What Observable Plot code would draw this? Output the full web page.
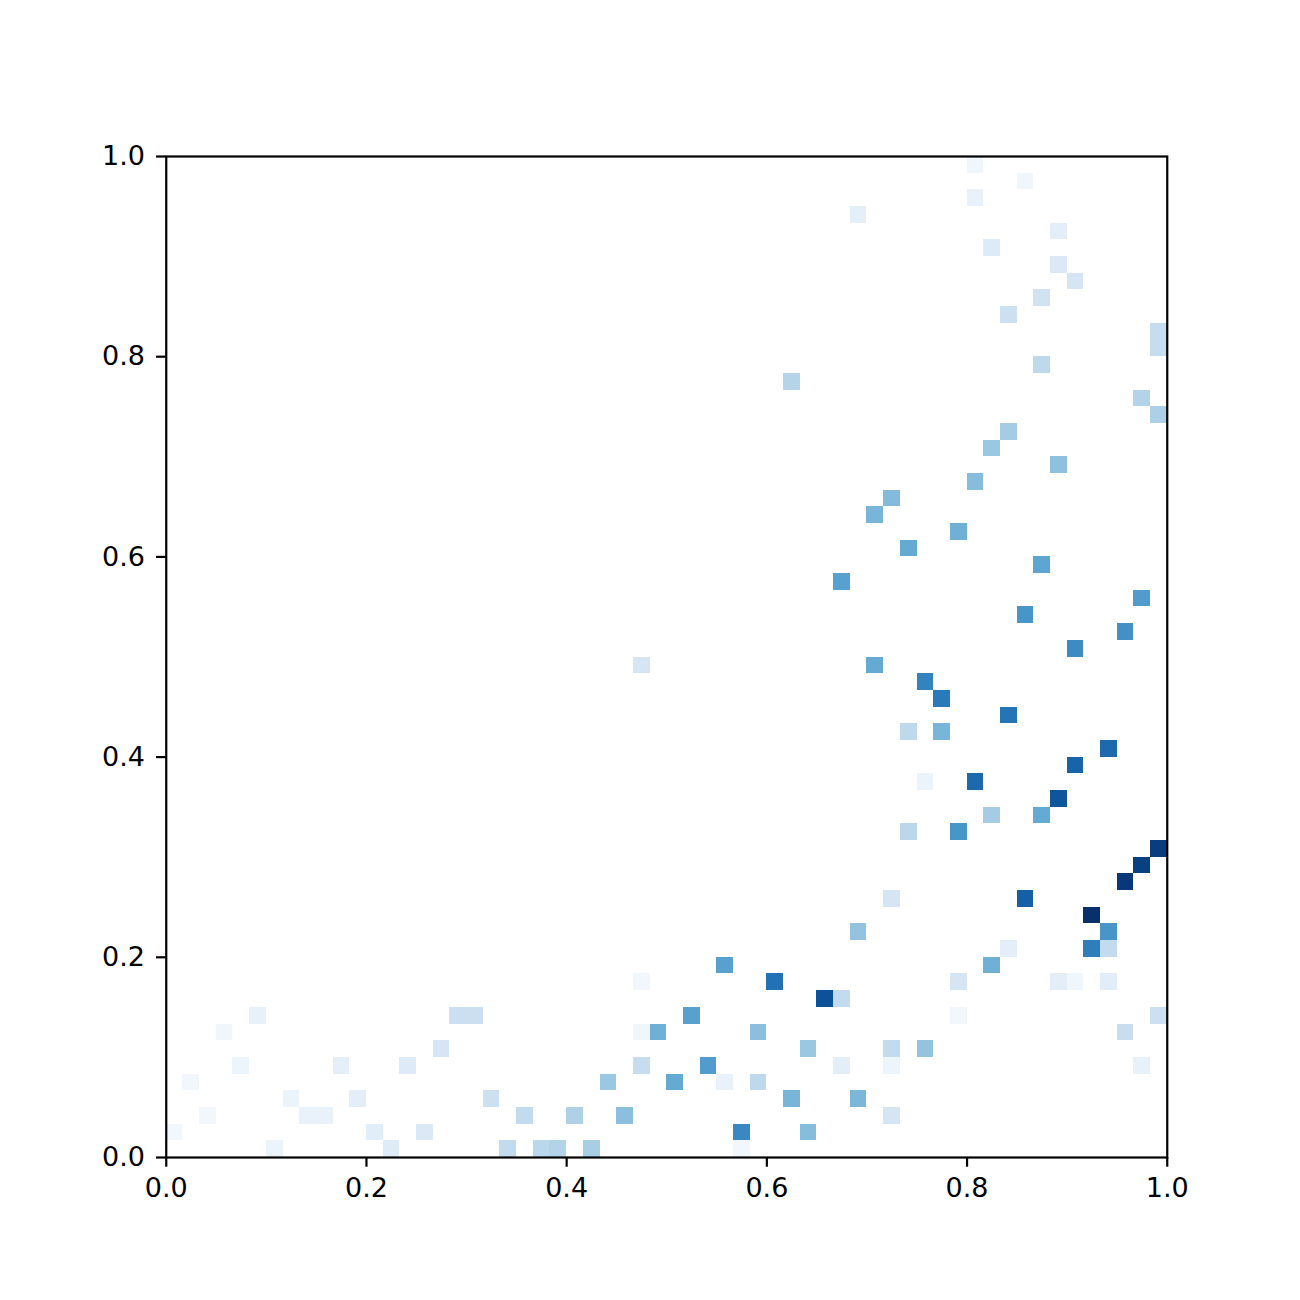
<!DOCTYPE html>
<html>
<head>
<meta charset="utf-8">
<script src="https://cdn.jsdelivr.net/npm/d3@7"></script>
<script src="https://cdn.jsdelivr.net/npm/@observablehq/plot@0.6"></script>
<style>
  html, body { margin: 0; padding: 0; background: #ffffff; }
  #chart { width: 1300px; height: 1300px; }
</style>
</head>
<body>
<div id="chart"></div>
<script>
// 2D histogram: 60 x 60 bins over [0,1] x [0,1]
const binCount = 60;
const tickValues = [0, 0.2, 0.4, 0.6, 0.8, 1.0];
const tickLabels = ["0.0", "0.2", "0.4", "0.6", "0.8", "1.0"];

// Non-empty cells: column index, row index (from bottom), bin weight (0..1)
const cellCol = [
  6, 13, 20, 22, 23, 25, 34,
  0, 12, 15, 34, 38,
  2, 8, 9, 21, 24, 27, 43,
  7, 11, 19, 37, 41,
  1, 26, 30, 33, 35,
  4, 10, 14, 28, 32, 40, 43, 58,
  16, 38, 43, 45,
  3, 28, 29, 35, 57,
  5, 17, 18, 31, 47, 59,
  39, 40,
  28, 36, 47, 53, 54, 56,
  33, 49,
  50, 55, 56,
  41, 56,
  55,
  43, 51,
  57,
  58,
  59,
  44, 47,
  49, 52,
  53,
  45, 48,
  54,
  56,
  44, 46,
  50,
  46,
  45,
  28, 42,
  54,
  57,
  51,
  58,
  40,
  52,
  44,
  47,
  42,
  43,
  48,
  53,
  49,
  50,
  59,
  58,
  37,
  52,
  59,
  59,
  50,
  52,
  54,
  53,
  49,
  53,
  41,
  48,
  51,
  48
];
const cellRow = [
  0, 0, 0, 0, 0, 0, 0,
  1, 1, 1, 1, 1,
  2, 2, 2, 2, 2, 2, 2,
  3, 3, 3, 3, 3,
  4, 4, 4, 4, 4,
  5, 5, 5, 5, 5, 5, 5, 5,
  6, 6, 6, 6,
  7, 7, 7, 7, 7,
  8, 8, 8, 8, 8, 8,
  9, 9,
  10, 10, 10, 10, 10, 10,
  11, 11,
  12, 12, 12,
  13, 13,
  14,
  15, 15,
  16,
  17,
  18,
  19, 19,
  20, 20,
  21,
  22, 22,
  23,
  24,
  25, 25,
  26,
  27,
  28,
  29, 29,
  30,
  31,
  32,
  33,
  34,
  35,
  36,
  37,
  38,
  39,
  40,
  41,
  42,
  43,
  44,
  45,
  46,
  47,
  48,
  49,
  50,
  51,
  52,
  53,
  54,
  55,
  56,
  57,
  58,
  59
];
const cellValue = [
  0.06, 0.12, 0.25, 0.28, 0.31, 0.34, 0.03,
  0.03, 0.11, 0.14, 0.66, 0.43,
  0.03, 0.07, 0.07, 0.25, 0.32, 0.42, 0.17,
  0.06, 0.10, 0.21, 0.47, 0.46,
  0.03, 0.38, 0.52, 0.07, 0.27,
  0.05, 0.09, 0.13, 0.24, 0.58, 0.10, 0.05, 0.08,
  0.17, 0.38, 0.25, 0.40,
  0.04, 0.04, 0.49, 0.42, 0.23,
  0.08, 0.22, 0.22, 0.56, 0.03, 0.21,
  0.87, 0.25,
  0.03, 0.75, 0.17, 0.10, 0.04, 0.11,
  0.56, 0.49,
  0.10, 0.70, 0.25,
  0.40, 0.61,
  1.00,
  0.17, 0.82,
  0.97,
  0.94,
  0.95,
  0.28, 0.61,
  0.35, 0.52,
  0.86,
  0.06, 0.78,
  0.80,
  0.78,
  0.27, 0.47,
  0.74,
  0.72,
  0.68,
  0.17, 0.52,
  0.65,
  0.63,
  0.61,
  0.58,
  0.56,
  0.54,
  0.52,
  0.49,
  0.47,
  0.44,
  0.43,
  0.41,
  0.38,
  0.35,
  0.33,
  0.31,
  0.30,
  0.27,
  0.24,
  0.24,
  0.21,
  0.19,
  0.17,
  0.14,
  0.13,
  0.10,
  0.09,
  0.07,
  0.04,
  0.04
];

const cells = cellCol.map((c, i) => ({col: c, row: cellRow[i], value: cellValue[i]}));

const chart = Plot.plot({
  width: 1300,
  height: 1300,
  marginLeft: 165.75,
  marginRight: 133.25,
  marginTop: 156,
  marginBottom: 143,
  style: {fontFamily: "'DejaVu Sans', sans-serif", fontSize: "27px", background: "#ffffff", color: "#000000"},
  x: {domain: [0, 1]},
  y: {domain: [0, 1]},
  color: {type: "linear", domain: [0, 1], scheme: "blues"},
  marks: [
    Plot.rect(cells, {
      x1: d => d.col / binCount,
      x2: d => (d.col + 1) / binCount,
      y1: d => d.row / binCount,
      y2: d => (d.row + 1) / binCount,
      fill: "value",
      inset: 0,
      shapeRendering: "crispEdges"
    }),
    Plot.frame({stroke: "#000000", strokeWidth: 2.2}),
    Plot.axisX({
      ticks: tickValues,
      tickFormat: (d, i) => tickLabels[i],
      tickSize: 9.7,
      tickPadding: 10.5,
      strokeWidth: 2.2,
      fontSize: 27,
      label: null
    }),
    Plot.axisY({
      ticks: tickValues,
      tickFormat: (d, i) => tickLabels[i],
      tickSize: 9.7,
      tickPadding: 11.5,
      strokeWidth: 2.2,
      fontSize: 27,
      label: null
    })
  ]
});
document.getElementById("chart").appendChild(chart);
</script>
</body>
</html>
